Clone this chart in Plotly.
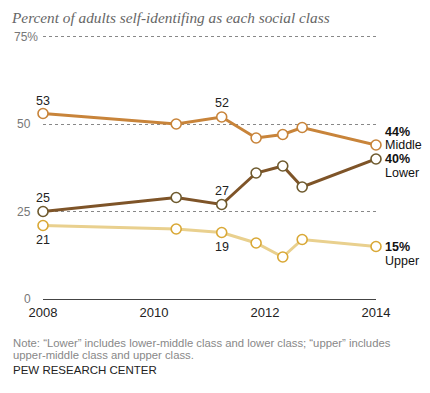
import plotly.graph_objects as go

years = [2008.0, 2010.4, 2011.22, 2011.84, 2012.32, 2012.67, 2014.0]
middle = [53, 50, 52, 46, 47, 49, 44]
lower = [25, 29, 27, 36, 38, 32, 40]
upper = [21, 20, 19, 16, 12, 17, 15]
series_names = ["Middle", "Lower", "Upper"]
x_ticks = [2008, 2010, 2012, 2014]
y_ticks = [0, 25, 50, 75]
y_tick_text = ["0", "25", "50", "75%"]

line_colors = ["#C8843A", "#7E5428", "#E9D08E"]
marker_colors = ["#C8843A", "#6E5A2E", "#D9A836"]

# page body has an 8px margin; figure sized to fit the window
OFF = 8
W, H = 430 - 2 * OFF, 393 - 2 * OFF
ml, mr, mt, mb = 35, 46, 25, 86
pw, ph = W - ml - mr, H - mt - mb

def px(x):  # screen x -> paper
    return (x - OFF - ml) / pw

def py(y):  # screen y -> paper
    return (H - mb - (y - OFF)) / ph

font = "Liberation Sans, Arial, sans-serif"
narrow = "Liberation Sans Narrow, Arial Narrow, Liberation Sans, sans-serif"

fig = go.Figure()
for name, vals, lc, mc in zip(series_names, [middle, lower, upper], line_colors, marker_colors):
    fig.add_trace(go.Scatter(
        x=years, y=vals, mode="lines+markers", name=name,
        line=dict(color=lc, width=3),
        marker=dict(symbol="circle", size=10, color="white", line=dict(color=mc, width=1.6)),
        cliponaxis=False, hoverinfo="skip"))

ann = []

def lab(x, y, text, yshift):
    ann.append(dict(x=x, y=y, xref="x", yref="y", text=text, showarrow=False,
                    yshift=yshift, font=dict(family=font, size=12.5, color="#222")))

lab(years[0], middle[0], str(middle[0]), 13)
lab(years[2], middle[2], str(middle[2]), 14)
lab(years[0], lower[0], str(lower[0]), 14)
lab(years[2], lower[2], str(lower[2]), 14)
lab(years[0], upper[0], str(upper[0]), -14)
lab(years[2], upper[2], str(upper[2]), -14)

# end labels: (value line shift, name line shift)
end_shifts = [(13, 0), (0, -14), (0, -14)]
for name, vals, (s1, s2) in zip(series_names, [middle, lower, upper], end_shifts):
    ann.append(dict(x=years[-1], y=vals[-1], xref="x", yref="y", text=f"<b>{vals[-1]}%</b>",
                    showarrow=False, xanchor="left", xshift=7, yshift=s1,
                    font=dict(family=font, size=12.5, color="#111")))
    ann.append(dict(x=years[-1], y=vals[-1], xref="x", yref="y", text=name,
                    showarrow=False, xanchor="left", xshift=7, yshift=s2,
                    font=dict(family=font, size=12.5, color="#111")))

# y tick labels
for v, t in zip(y_ticks, y_tick_text):
    ann.append(dict(x=0.0, y=v, xref="paper", yref="y", text=t, showarrow=False,
                    xanchor="right", xshift=-3 if t.endswith("%") else -10,
                    font=dict(family=font, size=12, color="#777")))

# title
ann.append(dict(x=px(10), y=py(8), xref="paper", yref="paper", xanchor="left", yanchor="top",
                text="<i>Percent of adults self-identifing as each social class</i>",
                showarrow=False, borderpad=0,
                font=dict(family="Liberation Serif, serif", size=15.3, color="#666")))
# notes
ann.append(dict(x=px(11), y=py(342.7), xref="paper", yref="paper", xanchor="left", yanchor="middle",
                text="Note: “Lower” includes lower-middle class and lower class; “upper” includes",
                showarrow=False, font=dict(family=font, size=11.3, color="#888")))
ann.append(dict(x=px(11), y=py(355), xref="paper", yref="paper", xanchor="left", yanchor="middle",
                text="upper-middle class and upper class.",
                showarrow=False, font=dict(family=font, size=11.3, color="#888")))
ann.append(dict(x=px(11), y=py(369.5), xref="paper", yref="paper", xanchor="left", yanchor="middle",
                text="PEW RESEARCH CENTER", showarrow=False,
                font=dict(family=narrow, size=11.5, color="#222")))

fig.update_layout(
    annotations=ann,
    width=W, height=H, margin=dict(l=ml, r=mr, t=mt, b=mb, autoexpand=False),
    plot_bgcolor="white", paper_bgcolor="white", showlegend=False,
    xaxis=dict(range=[2008, 2014], tickvals=x_ticks, showgrid=False, zeroline=False,
               showline=False, ticks="", ticklabelstandoff=4,
               tickfont=dict(family=font, size=13, color="#222")),
    yaxis=dict(range=[0, 76], tickvals=y_ticks, showticklabels=False, showgrid=True,
               gridcolor="#888", griddash="dot", gridwidth=1, zeroline=True,
               zerolinecolor="#444", zerolinewidth=1, showline=False, ticks=""),
)
fig.write_html("out.html")
